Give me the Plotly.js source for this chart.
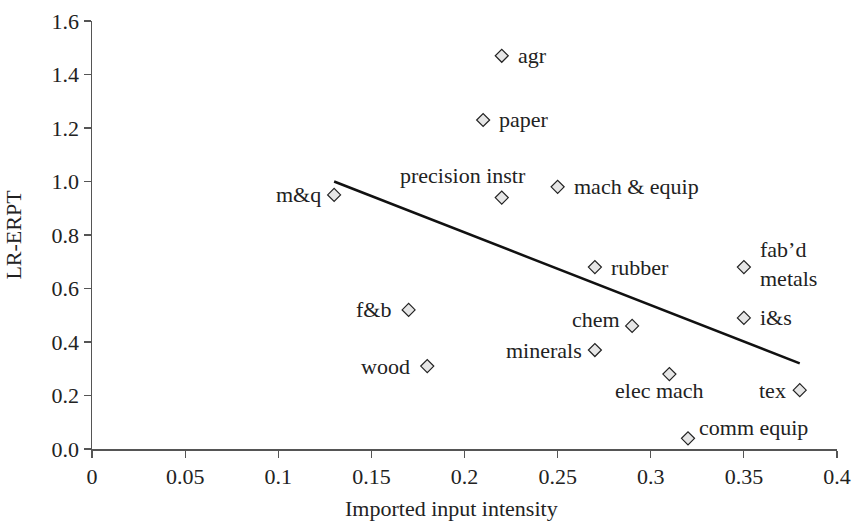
<!DOCTYPE html>
<html>
<head>
<meta charset="utf-8">
<script src="https://cdn.plot.ly/plotly-3.0.1.min.js"></script>
<style>html,body{margin:0;padding:0;background:#fff;}#chart{width:852px;height:522px;}</style>
</head>
<body>
<div id="chart"></div>
<script>
// Data
var sectors = ["agr", "paper", "precision instr", "mach & equip", "m&q", "rubber", "fab\u2019d<br>metals", "i&s", "f&b", "chem", "minerals", "wood", "elec mach", "tex", "comm equip"];
var intensity = [0.22, 0.21, 0.22, 0.25, 0.13, 0.27, 0.35, 0.35, 0.17, 0.29, 0.27, 0.18, 0.31, 0.38, 0.32];
var lrErpt = [1.47, 1.23, 0.94, 0.98, 0.95, 0.68, 0.68, 0.49, 0.52, 0.46, 0.37, 0.31, 0.28, 0.22, 0.04];
var trendX = [0.13, 0.38];
var trendY = [1.00, 0.32];
var xTitle = "Imported input intensity";
var yTitle = "LR-ERPT";

// Label placement (style only)
var placement = {
  "agr": {xa: "left", dx: 14, dy: 0},
  "paper": {xa: "left", dx: 14, dy: 0},
  "precision instr": {xa: "center", dx: -39, dy: -22},
  "mach & equip": {xa: "left", dx: 14, dy: 0},
  "m&q": {xa: "right", dx: -11, dy: 0},
  "rubber": {xa: "left", dx: 14, dy: 0},
  "fab\u2019d<br>metals": {xa: "left", dx: 14, dy: -3},
  "i&s": {xa: "left", dx: 14, dy: 0},
  "f&b": {xa: "right", dx: -16, dy: 0},
  "chem": {xa: "right", dx: -10, dy: -6},
  "minerals": {xa: "right", dx: -11, dy: 0},
  "wood": {xa: "right", dx: -15, dy: 0},
  "elec mach": {xa: "center", dx: -10, dy: 16},
  "tex": {xa: "right", dx: -12, dy: 0},
  "comm equip": {xa: "left", dx: 9, dy: -11}
};

var FONT = "Liberation Serif, Times New Roman, serif";
var FS = 22;

var annotations = sectors.map(function (s, i) {
  var p = placement[s];
  return {
    x: intensity[i], y: lrErpt[i], xref: "x", yref: "y",
    text: s, showarrow: false,
    xanchor: p.xa, yanchor: "middle",
    xshift: p.dx, yshift: -p.dy,
    align: "left",
    font: {family: FONT, size: FS, color: "#222"}
  };
});
annotations.push({
  text: xTitle, xref: "paper", yref: "paper", x: 0.482, y: -0.138,
  xanchor: "center", yanchor: "middle", showarrow: false,
  font: {family: FONT, size: FS, color: "#222"}
});

var traces = [
  {
    x: trendX, y: trendY, type: "scatter", mode: "lines",
    line: {color: "#111", width: 2.5}, hoverinfo: "skip"
  },
  {
    x: intensity, y: lrErpt, type: "scatter", mode: "markers",
    marker: {symbol: "diamond", size: 10, color: "#e6e6e6", line: {color: "#222", width: 1.2}},
    text: sectors
  }
];

var layout = {
  width: 852, height: 522,
  margin: {l: 92, r: 15, t: 21, b: 73},
  paper_bgcolor: "#fff", plot_bgcolor: "#fff",
  showlegend: false,
  font: {family: FONT, size: FS, color: "#222"},
  xaxis: {
    range: [0, 0.4], dtick: 0.05, tick0: 0,
    showgrid: false, zeroline: false,
    showline: true, linecolor: "#555", linewidth: 1.5,
    ticks: "outside", ticklen: 7, tickcolor: "#555", tickwidth: 1.2,
    tickfont: {family: FONT, size: FS, color: "#222"}
  },
  yaxis: {
    range: [0, 1.6], dtick: 0.2, tick0: 0, tickformat: ".1f",
    showgrid: false, zeroline: false,
    showline: true, linecolor: "#555", linewidth: 1.5,
    ticks: "outside", ticklen: 7, tickcolor: "#555", tickwidth: 1.2,
    tickfont: {family: FONT, size: FS, color: "#222"},
    title: {text: yTitle, font: {family: FONT, size: FS, color: "#222"}, standoff: 24}
  },
  annotations: annotations
};

Plotly.newPlot("chart", traces, layout, {staticPlot: true, displayModeBar: false});
</script>
</body>
</html>
